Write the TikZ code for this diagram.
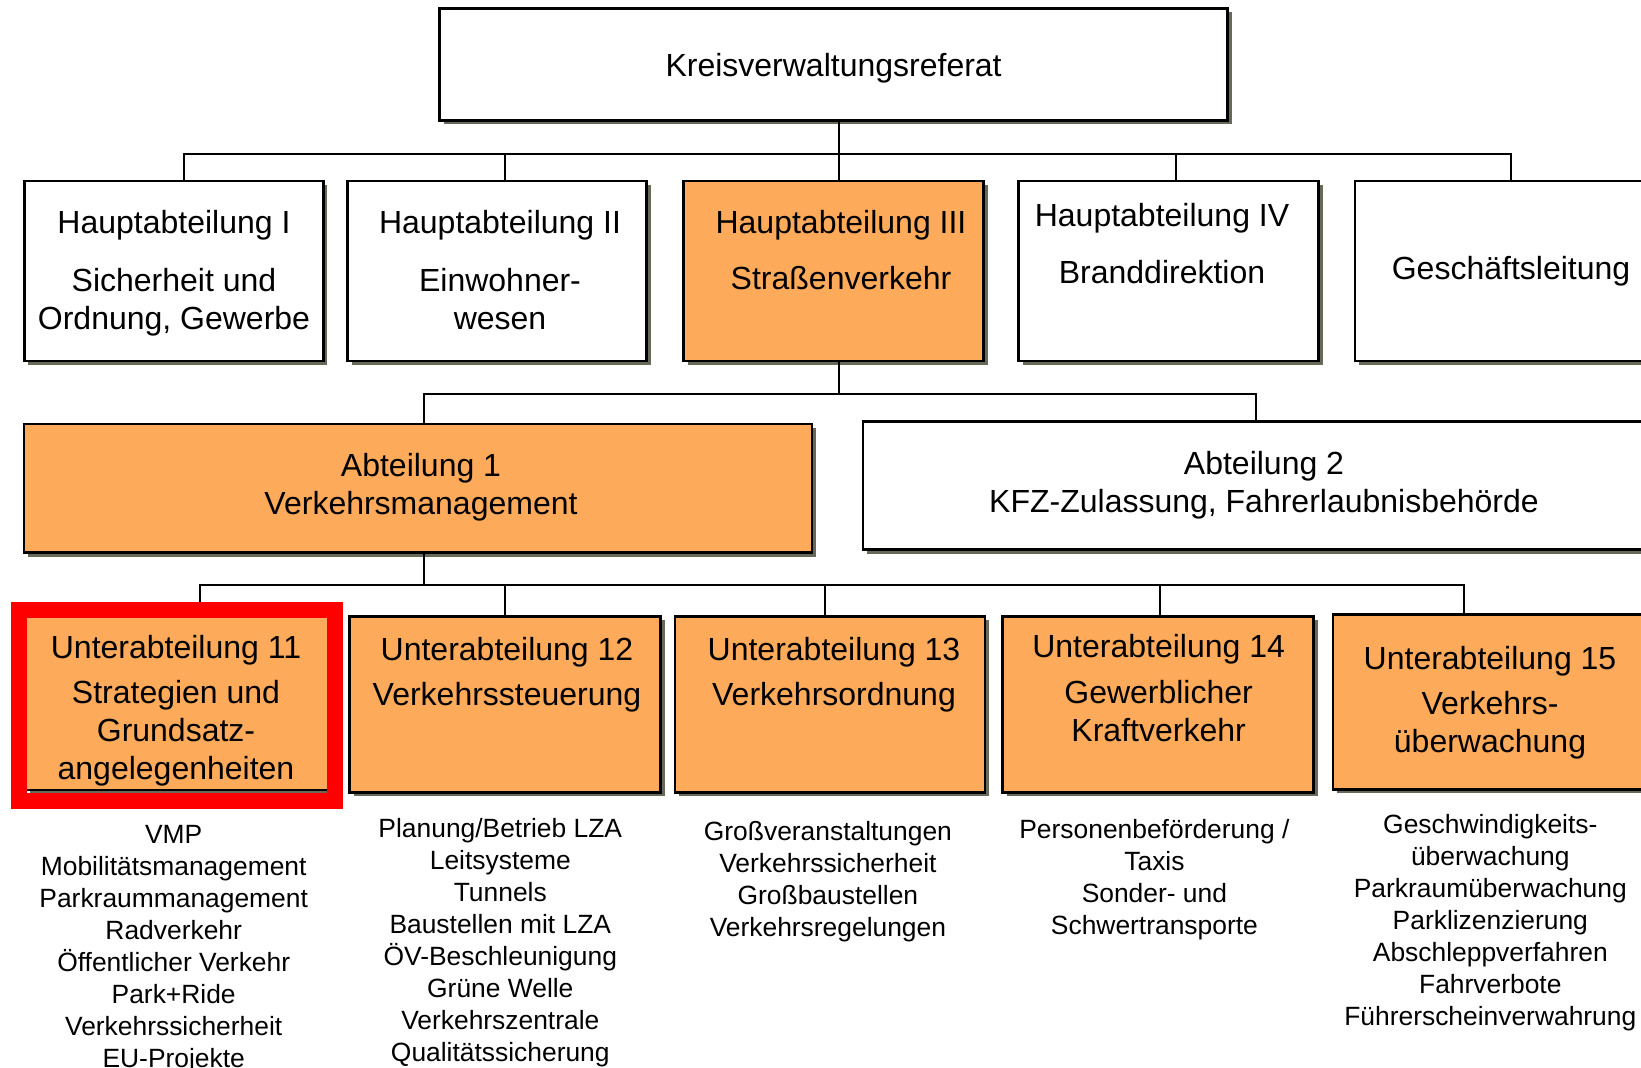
\documentclass[tikz,border=0pt]{standalone}
\usepackage{fontspec}
\setmainfont{Liberation Sans}
\usetikzlibrary{shadows}
\definecolor{orgorange}{RGB}{253,170,90}
\definecolor{orgshadow}{RGB}{105,105,90}
\definecolor{orgred}{RGB}{255,0,0}
\newcommand{\boxfont}{\fontsize{16}{19}\selectfont}
\newcommand{\listfont}{\fontsize{13.2}{16}\selectfont}

\begin{document}
\begin{tikzpicture}[x=0.5pt,y=-0.5pt,
    unit/.style={draw,line width=1.3pt,rectangle,inner sep=0pt,
      drop shadow={shadow xshift=2pt,shadow yshift=-2pt,fill=orgshadow,opacity=1}},
    hot/.style={unit,fill=orgorange},
    plain/.style={unit,fill=white},
    boxtext/.style={align=center,font=\boxfont,inner sep=0pt},
    tasks/.style={align=center,font=\listfont,inner sep=0pt},
    conn/.style={line width=1pt}]
    \fill[white] (0,0) rectangle (1641,1068);
    \clip (0,0) rectangle (1641,1068);

    \node[plain,minimum width=394pt,minimum height=56pt] (kvr) at (833.6,64.4) {};
    \node[plain,minimum width=149.5pt,minimum height=90pt] (ha1) at (173.7,271) {};
    \node[plain,minimum width=149.5pt,minimum height=90pt] (ha2) at (497,271) {};
    \node[hot,minimum width=150pt,minimum height=90pt] (ha3) at (833.6,271) {};
    \node[plain,minimum width=150pt,minimum height=90pt] (ha4) at (1168.5,271) {};
    \node[plain,minimum width=156pt,minimum height=90pt] (gl) at (1511,271) {};
    \node[hot,minimum width=394pt,minimum height=64.3pt] (ab1) at (418,488.3) {};
    \node[plain,minimum width=400pt,minimum height=64pt] (ab2) at (1263,485.6) {};
    \node[hot,minimum width=152pt,minimum height=87pt] (ua11) at (178,703) {};
    \node[hot,minimum width=155.5pt,minimum height=88pt] (ua12) at (505,704.4) {};
    \node[hot,minimum width=155pt,minimum height=88pt] (ua13) at (830,704.4) {};
    \node[hot,minimum width=155.5pt,minimum height=88pt] (ua14) at (1158,704.4) {};
    \node[hot,minimum width=157pt,minimum height=87.5pt] (ua15) at (1490,701.8) {};

    \draw[conn] ([xshift=2.9pt]kvr.south) -- ++(0,32) coordinate (j1);
    \draw[conn] (j1) -| ([xshift=5.25pt]ha1.north);
    \draw[conn] (j1) -| ([xshift=3.75pt]ha2.north);
    \draw[conn] (j1) -- ([xshift=2.9pt]ha3.north);
    \draw[conn] (j1) -| ([xshift=3.95pt]ha4.north);
    \draw[conn] (j1) -| (gl.north);
    \draw[conn] ([xshift=2.9pt]ha3.south) -- ++(0,31.5) coordinate (j2);
    \draw[conn] (j2) -| ([xshift=2.95pt]ab1.north);
    \draw[conn] (j2) -| ([xshift=-3.55pt]ab2.north);
    \draw[conn] ([xshift=2.95pt]ab1.south) -- ++(0,31.4) coordinate (j3);
    \draw[conn] (j3) -| ([xshift=11pt]ua11.north);
    \draw[conn] (j3) -| (ua12.north);
    \draw[conn] (j3) -| ([xshift=-2.65pt]ua13.north);
    \draw[conn] (j3) -| ([xshift=0.8pt]ua14.north);
    \draw[conn] (j3) -| ([xshift=-12.9pt]ua15.north);

    \node[draw=orgred,line width=8pt,inner sep=0pt,minimum width=158.25pt,minimum height=95.5pt] (focus) at (176.75,705.5) {};

    \node[boxtext] (kvrname) at (833.6,68.4) {Kreisverwaltungsreferat};
    \node[boxtext] (ha1name) at (174,273) {Hauptabteilung I\\[10pt]Sicherheit und\\Ordnung, Gewerbe};
    \node[boxtext] (ha2name) at (500,270.5) {Hauptabteilung II\\[10pt]Einwohner-\\wesen};
    \node[boxtext] (ha3name) at (841,249.6) {Hauptabteilung III\\[9pt]Straßenverkehr};
    \node[boxtext] (ha4name) at (1162,243.5) {Hauptabteilung IV\\[9.4pt]Branddirektion};
    \node[boxtext] (glname) at (1511,271.5) {Geschäftsleitung};
    \node[boxtext] (ab1name) at (421,487.5) {Abteilung 1\\Verkehrsmanagement};
    \node[boxtext] (ab2name) at (1264,485.5) {Abteilung 2\\KFZ-Zulassung, Fahrerlaubnisbehörde};
    \node[boxtext] (ua11name) at (176,710.5) {Unterabteilung 11\\[3.6pt]Strategien und\\Grundsatz-\\angelegenheiten};
    \node[boxtext] (ua12name) at (507,675) {Unterabteilung 12\\[3.6pt]Verkehrssteuerung};
    \node[boxtext] (ua13name) at (834,675) {Unterabteilung 13\\[3.6pt]Verkehrsordnung};
    \node[boxtext] (ua14name) at (1158.6,688) {Unterabteilung 14\\[3.6pt]Gewerblicher\\Kraftverkehr};
    \node[boxtext] (ua15name) at (1490,703) {Unterabteilung 15\\[3.6pt]Verkehrs-\\überwachung};

    \node[tasks] (ua11tasks) at (173.7,948.8) {VMP\\Mobilitätsmanagement\\Parkraummanagement\\Radverkehr\\Öffentlicher Verkehr\\Park+Ride\\Verkehrssicherheit\\EU-Projekte};
    \node[tasks] (ua12tasks) at (500.3,943) {Planung/Betrieb LZA\\Leitsysteme\\Tunnels\\Baustellen mit LZA\\ÖV-Beschleunigung\\Grüne Welle\\Verkehrszentrale\\Qualitätssicherung};
    \node[tasks] (ua13tasks) at (827.9,881.2) {Großveranstaltungen\\Verkehrssicherheit\\Großbaustellen\\Verkehrsregelungen};
    \node[tasks] (ua14tasks) at (1154.4,879.2) {Personenbeförderung /\\Taxis\\Sonder- und\\Schwertransporte};
    \node[tasks] (ua15tasks) at (1490.3,922.6) {Geschwindigkeits-\\überwachung\\Parkraumüberwachung\\Parklizenzierung\\Abschleppverfahren\\Fahrverbote\\Führerscheinverwahrung};
\end{tikzpicture}
\end{document}
